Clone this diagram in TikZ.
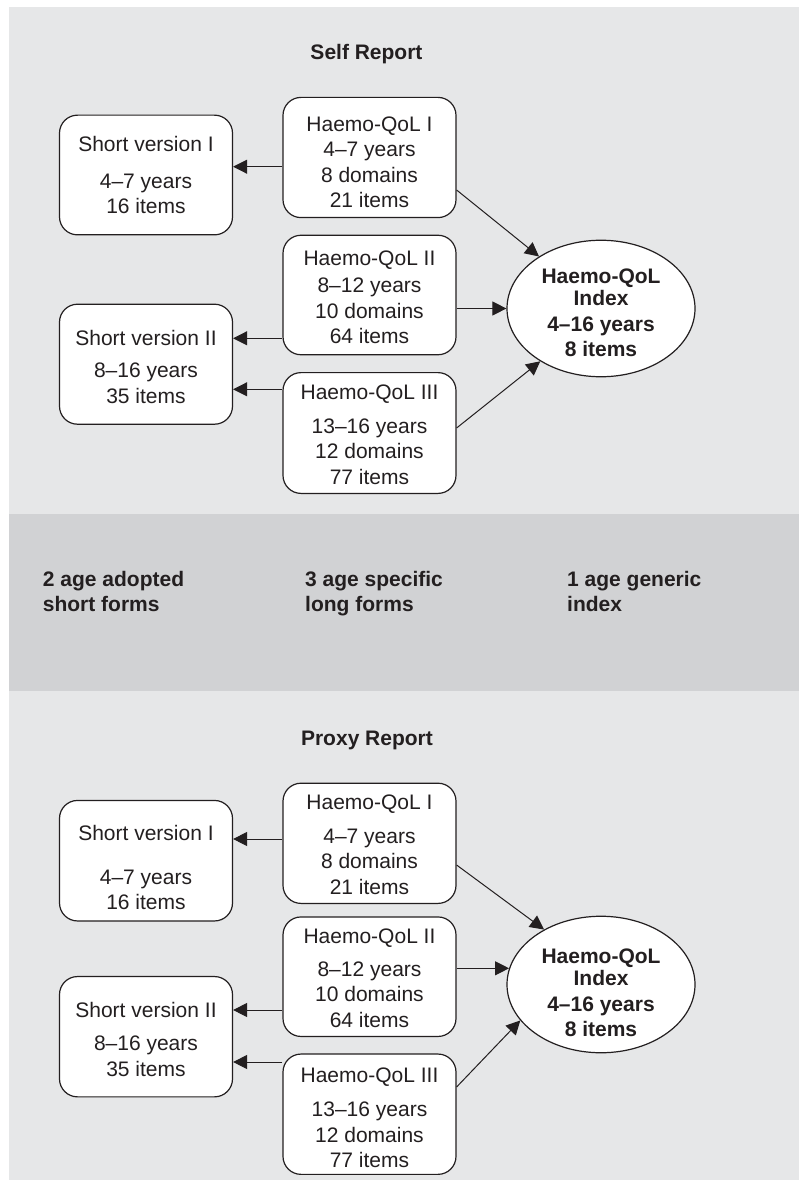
\documentclass[tikz,border=0pt]{standalone}
\usepackage{fontspec}
\setmainfont{Liberation Sans}
\usetikzlibrary{arrows.meta,shapes.geometric}
\definecolor{bglight}{HTML}{E6E7E8}
\definecolor{bgband}{HTML}{D1D2D4}
\definecolor{ink}{HTML}{231F20}
\newcommand\bxup[1]{\rule{0pt}{#1}}
\newcommand\bxdn[1]{\rule[-#1]{0pt}{#1}}
\tikzset{
  box/.style={font=\fontsize{21}{25.5}\selectfont, draw=ink, line width=1.2pt, fill=white,
    rounded corners=18pt, inner sep=0pt, minimum width=173pt, align=center, text=ink},
  ell/.style={font=\fontsize{21}{25.5}\selectfont\bfseries, draw=ink, line width=1.2pt, fill=white,
    ellipse, inner sep=-15pt, minimum width=188pt, minimum height=136.5pt, align=center, text=ink},
  arr/.style={draw=ink, line width=1pt, -{Triangle[length=14pt,width=14pt]}},
  ttl/.style={font=\fontsize{21}{25.5}\selectfont\bfseries, anchor=base, inner sep=0pt, text=ink},
  band/.style={font=\fontsize{21}{24.3}\selectfont\bfseries, anchor=north west, inner sep=0pt,
    align=left, text=ink},
}
\begin{document}
\begin{tikzpicture}[x=1pt,y=-1pt]
\useasboundingbox (0,0) rectangle (799,1182);
\fill[bglight] (9,7) rectangle (799,1180);
\fill[bgband] (9,514) rectangle (799,691);

% ---------- Self report ----------
\node[ttl] (s-title) at (366.5,60) {Self Report};
\node[box] (s-sv1) at (146,175) {\bxup{36.7pt}Short version I\\[11pt]4–7 years\\16 items\bxdn{21pt}};
\node[box] (s-hq1) at (369.5,157.5) {\bxup{33.7pt}Haemo-QoL I\\4–7 years\\8 domains\\21 items\bxdn{10pt}};
\node[box] (s-hq2) at (369.5,295) {\bxup{30pt}Haemo-QoL II\\[2pt]8–12 years\\10 domains\\64 items\bxdn{11pt}};
\node[box] (s-sv2) at (146,364.2) {\bxup{41pt}Short version II\\[7pt]8–16 years\\35 items\bxdn{21pt}};
\node[box] (s-hq3) at (369.5,433) {\bxup{27.3pt}Haemo-QoL III\\[8pt]13–16 years\\12 domains\\77 items\bxdn{9pt}};
\node[ell] (s-ix) at (601,308.5) {\bxup{23.3pt}Haemo-QoL\\[-2.8pt]Index\\4–16 years\\8 items};

\draw[arr] (s-hq1.west |- 0,166.7) -- (s-sv1.east |- 0,166.7);
\draw[arr] (s-hq2.west |- 0,338.3) -- (s-sv2.east |- 0,338.3);
\draw[arr] (s-hq3.west |- 0,389.3) -- (s-sv2.east |- 0,389.3);
\draw[arr] (s-hq1.east |- 0,190) -- (s-ix.140.4);
\draw[arr] (s-hq2.east |- s-ix.west) -- (s-ix.west);
\draw[arr] (s-hq3.east |- 0,428) -- (s-ix.221.2);

% ---------- Middle band ----------
\node[band] (b-short) at (42.7,566.7) {\bxup{20pt}2 age adopted\\short forms};
\node[band] (b-long) at (305,566.7) {\bxup{20pt}3 age specific\\long forms};
\node[band] (b-index) at (567,566.7) {\bxup{20pt}1 age generic\\index};

% ---------- Proxy report ----------
\node[ttl] (p-title) at (367,745) {Proxy Report};
\node[box] (p-sv1) at (146,860.7) {\bxup{40pt}Short version I\\[18.5pt]4–7 years\\16 items\bxdn{11pt}};
\node[box] (p-hq1) at (369.5,843.3) {\bxup{26.7pt}Haemo-QoL I\\[8pt]4–7 years\\8 domains\\21 items\bxdn{9pt}};
\node[box] (p-hq2) at (369.5,976.7) {\bxup{27pt}Haemo-QoL II\\[7pt]8–12 years\\10 domains\\64 items\bxdn{9pt}};
\node[box] (p-sv2) at (146,1036.7) {\bxup{40.6pt}Short version II\\[8pt]8–16 years\\35 items\bxdn{20.7pt}};
\node[box] (p-hq3) at (369.5,1114.2) {\bxup{28.7pt}Haemo-QoL III\\[8.5pt]13–16 years\\12 domains\\77 items\bxdn{6.6pt}};
\node[ell] (p-ix) at (601,984.5) {\bxup{31.3pt}Haemo-QoL\\[-2.8pt]Index\\4–16 years\\8 items};

\draw[arr] (p-hq1.west |- 0,839) -- (p-sv1.east |- 0,839);
\draw[arr] (p-hq2.west |- 0,1010) -- (p-sv2.east |- 0,1010);
\draw[arr] (p-hq3.west |- 0,1062) -- (p-sv2.east |- 0,1062);
\draw[arr] (p-hq1.east |- 0,865) -- (p-ix.136.2);
\draw[arr] (p-hq2.east |- p-ix.170.4) -- (p-ix.170.4);
\draw[arr] (p-hq3.east |- 0,1087) -- (p-ix.204.5);
\end{tikzpicture}
\end{document}
